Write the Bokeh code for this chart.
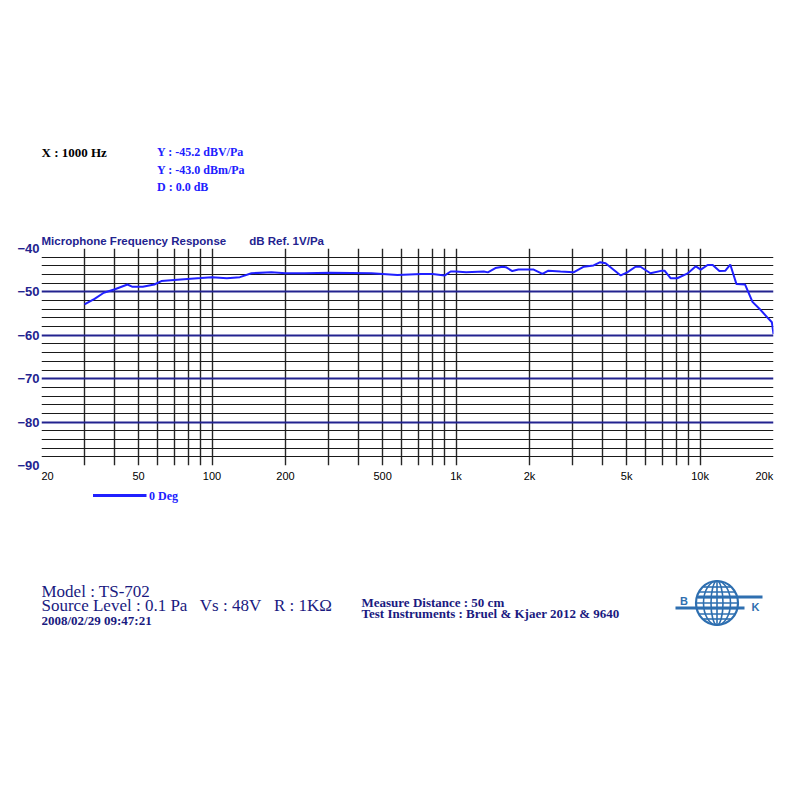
import numpy as np
from bokeh.plotting import figure
from bokeh.layouts import column
from bokeh.models import Range1d, FixedTicker, Title
from bokeh.core.properties import value
from bokeh.embed import file_html
from bokeh.resources import INLINE

# ---- data ----
freq_hz = [30, 33, 36, 40, 45, 47, 52, 58, 62, 72, 90, 100, 115, 130, 145, 175, 200, 240,
           305, 450, 575, 720, 800, 900, 950, 1000, 1100, 1300, 1350, 1450, 1550, 1600,
           1700, 1800, 2080, 2260, 2390, 2680, 3030, 3340, 3660, 3900, 4100, 4730, 5030,
           5440, 5700, 6260, 6990, 7150, 7570, 8060, 8860, 9610, 10070, 10740, 11270,
           12000, 12700, 13300, 14100, 15300, 16400, 17800, 19100, 19700, 20000]
level_db = [-52.9, -51.6, -50.2, -49.4, -48.3, -48.8, -48.8, -48.3, -47.5, -47.2, -46.8,
            -46.6, -46.85, -46.6, -45.7, -45.5, -45.7, -45.7, -45.6, -45.7, -46.1, -45.85,
            -45.85, -46.2, -45.3, -45.3, -45.5, -45.3, -45.5, -44.5, -44.2, -44.3, -45.2,
            -44.85, -44.85, -45.85, -45.1, -45.3, -45.5, -44.2, -43.9, -43.15, -43.4,
            -46.2, -45.5, -44.2, -44.2, -45.7, -45.1, -45.1, -46.85, -46.85, -45.8, -44.1,
            -44.85, -43.8, -43.8, -45.2, -45.1, -43.7, -48.2, -48.3, -52.3, -54.3, -56.2,
            -57.0, -59.7]

FS = "\u2007"  # figure space, used to push the end labels inside the frame
x_tick_values = [20, 50, 100, 200, 500, 1000, 2000, 5000, 10000, 20000]
x_tick_labels = [FS + FS + "20", "50", "100", "200", "500", "1k", "2k", "5k", "10k",
                 "20k" + FS + FS + FS]
x_grid_values = [20, 30, 40, 50, 60, 70, 80, 90, 100, 200, 300, 400, 500, 600, 700, 800,
                 900, 1000, 2000, 3000, 4000, 5000, 6000, 7000, 8000, 9000, 10000, 20000]
y_major = [-90, -80, -70, -60, -50, -40]
y_minor = [v for v in range(-90, -39, 2) if v % 10 != 0]

chart_title = "Microphone Frequency Response\u2003\u2003dB Ref. 1V/Pa"
header_texts = ["X : 1000 Hz", "Y : -45.2 dBV/Pa", "Y : -43.0 dBm/Pa", "D : 0.0 dB"]
legend_name = "0 Deg"
footer_big = ["Model : TS-702",
              "Source Level : 0.1 Pa\u2002 Vs : 48V\u2002 R : 1K\u03a9"]
footer_date = "2008/02/29 09:47:21"
footer_small = ["Measure Distance : 50 cm", "Test Instruments : Bruel & Kjaer 2012 & 9640"]

NAVY = "#23238f"
BLUE = "#2020ff"
TXT = "#1a1a80"
SERIF = value("Liberation Serif")
SANS = value("Liberation Sans")

W = 800
FL, FR = 41, 773  # frame left/right on the page


def blank(height, y_top, y_bottom):
    f = figure(width=W, height=height, x_range=Range1d(FL, FR),
               y_range=Range1d(y_bottom, y_top), min_border_left=FL,
               min_border_right=W - FR, min_border_top=0, min_border_bottom=0,
               toolbar_location=None, output_backend="svg",
               x_axis_location=None, y_axis_location=None)
    f.grid.visible = False
    f.outline_line_color = None
    return f


# ---- header (page y 0..226) ----
head = blank(226, 0, 226)
head.text(x=[41], y=[151.5], text=[header_texts[0]], text_font=SERIF,
          text_font_style="bold", text_font_size="13px", text_color="black",
          text_baseline="middle", text_align="left")
head.text(x=[156.5, 156.5, 156.5], y=[151.5, 169.3, 186.3], text=header_texts[1:],
          text_font=SERIF, text_font_style="bold", text_font_size="12px",
          text_color=BLUE, text_baseline="middle", text_align="left")

# ---- main chart (page y 226..485, frame 248..465) ----
p = figure(width=W, height=259, x_axis_type="log", x_range=Range1d(20, 20000),
           y_range=Range1d(-90, -40), min_border_left=FL, min_border_right=W - FR,
           min_border_top=22, min_border_bottom=20, toolbar_location=None,
           output_backend="svg")
p.title = Title(text=chart_title, align="left", standoff=3, text_font="Liberation Sans",
                text_font_style="bold", text_font_size="11.5px", text_color=NAVY)
p.outline_line_color = None

p.xgrid.ticker = FixedTicker(ticks=x_grid_values)
p.xgrid.grid_line_color = "#262626"
p.xgrid.grid_line_width = 1.4
p.ygrid.ticker = FixedTicker(ticks=y_major, minor_ticks=y_minor)
p.ygrid.grid_line_color = NAVY
p.ygrid.grid_line_width = 2.2
p.ygrid.minor_grid_line_color = "#1a1a1a"
p.ygrid.minor_grid_line_width = 1

p.xaxis.ticker = FixedTicker(ticks=x_tick_values)
p.xaxis.major_label_overrides = dict(zip(x_tick_values, x_tick_labels))
p.yaxis.ticker = FixedTicker(ticks=y_major)
for ax in (p.xaxis, p.yaxis):
    ax.axis_line_color = None
    ax.major_tick_line_color = None
    ax.minor_tick_line_color = None
    ax.major_tick_in = 0
    ax.major_tick_out = 0
p.xaxis.major_label_text_font = "Liberation Sans"
p.xaxis.major_label_text_font_size = "11px"
p.xaxis.major_label_text_color = "black"
p.xaxis.major_label_standoff = 4
p.yaxis.major_label_text_font = "Liberation Sans"
p.yaxis.major_label_text_font_size = "13px"
p.yaxis.major_label_text_font_style = "bold"
p.yaxis.major_label_text_color = NAVY
p.yaxis.major_label_standoff = 2

p.line(freq_hz, level_db, line_color=BLUE, line_width=2)

# ---- footer (page y 485..797) ----
foot = blank(312, 485, 797)
foot.line(x=[92.5, 146], y=[495, 495], line_color=BLUE, line_width=3)
foot.text(x=[148.5], y=[495.5], text=[legend_name], text_font=SERIF, text_font_style="bold",
          text_font_size="12px", text_color=BLUE, text_baseline="middle", text_align="left")
foot.text(x=[41, 41], y=[590.5, 604.5], text=footer_big, text_font=SERIF,
          text_font_size="17px", text_color=TXT, text_baseline="middle",
          text_align="left")
foot.text(x=[41], y=[619.5], text=[footer_date], text_font=SERIF, text_font_style="bold",
          text_font_size="13px", text_color=TXT, text_baseline="middle",
          text_align="left")
foot.text(x=[361, 361], y=[602.3, 613.3], text=footer_small, text_font=SERIF,
          text_font_style="bold", text_font_size="13px", text_color=TXT,
          text_baseline="middle", text_align="left")

# BK logo
LC = "#2e6fb0"
cx, cy, r = 716.5, 602.5, 21.0
foot.ellipse(x=[cx], y=[cy], width=[2 * r], height=[2 * r + 2], fill_color=None,
             line_color=LC, line_width=2.2)
foot.ellipse(x=[cx, cx], y=[cy, cy], width=[27, 12], height=[2 * r + 2, 2 * r + 2],
             fill_color=None, line_color=LC, line_width=1.6)
foot.line(x=[cx, cx], y=[cy - r - 1, cy + r + 1], line_color=LC, line_width=1.6)
lat = np.array([-16, -11, -5.5, 0, 5.5, 11, 16])
half = np.sqrt(r ** 2 - lat ** 2)
foot.segment(x0=cx - half, y0=cy + lat, x1=cx + half, y1=cy + lat, line_color=LC,
             line_width=1.6)
foot.segment(x0=[697, 675], y0=[596.5, 607.5], x1=[762, 744], y1=[596.5, 607.5],
             line_color=LC, line_width=3)
foot.text(x=[683.5, 755], y=[600.5, 606], text=["B", "K"], text_font=SANS,
          text_font_style="bold", text_font_size="11px", text_color=LC,
          text_baseline="middle", text_align="center")

layout = column(head, p, foot, spacing=0)
open("out.html", "w").write(file_html(layout, INLINE))
